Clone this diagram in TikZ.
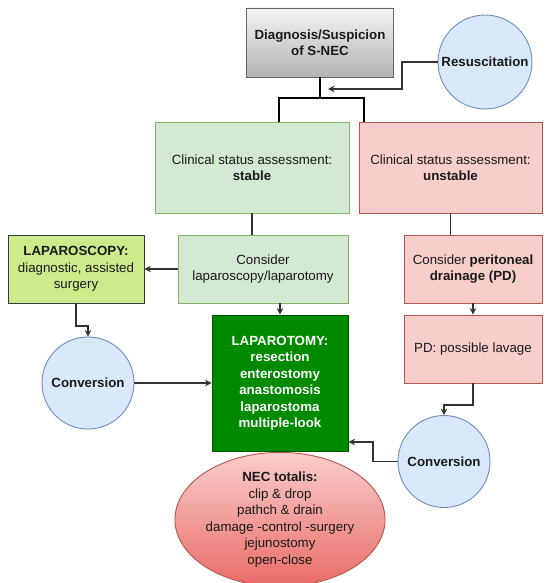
\documentclass[tikz,border=0pt]{standalone}
\usepackage{fontspec}
\setmainfont{Liberation Sans}
\usetikzlibrary{shapes.geometric,arrows.meta}
\definecolor{okfill}{HTML}{D5E8D4}
\definecolor{okline}{HTML}{82B366}
\definecolor{badfill}{HTML}{F8CECC}
\definecolor{badline}{HTML}{B85450}
\definecolor{badbot}{HTML}{EA6B66}
\definecolor{scopefill}{HTML}{CDEB8B}
\definecolor{scopeline}{HTML}{36393D}
\definecolor{tomyfill}{HTML}{008A00}
\definecolor{tomyline}{HTML}{005700}
\definecolor{convfill}{HTML}{DAE8FC}
\definecolor{convline}{HTML}{6C8EBF}
\definecolor{txt}{HTML}{1A1A1A}
\begin{document}
\begin{tikzpicture}[x=1pt, y=-1pt,
  every node/.style={font=\fontsize{13.3}{16.5}\selectfont, text=txt},
  blk/.style={draw, line width=0.9pt, align=center, inner sep=2pt},
  ok/.style={blk, fill=okfill, draw=okline},
  bad/.style={blk, fill=badfill, draw=badline},
  conv/.style={circle, draw=convline, fill=convfill, line width=0.9pt, minimum size=92pt, inner sep=0pt, font=\fontsize{13.3}{16.5}\selectfont\bfseries},
  arr/.style={-{Stealth[length=6.5pt,width=6.5pt]}, line width=1.2pt, draw=black!80},
  lnk/.style={line width=1.2pt, draw=black!80},
  trunk/.style={line width=2.4pt, draw=black}]
\useasboundingbox (0,0) rectangle (550,583);
\node[blk, top color=black!4, bottom color=black!30, draw=black!60, minimum width=147pt, minimum height=69pt, font=\fontsize{13.3}{16.5}\selectfont\bfseries] (diag) at (320,42.5) {Diagnosis/Suspicion\\of S-NEC};
\node[conv, minimum size=94pt] (resus) at (485,62) {Resuscitation};
\node[ok, minimum width=194pt, minimum height=91pt] (stable) at (252,167.5) {Clinical status assessment:\\\textbf{stable}};
\node[bad, minimum width=183pt, minimum height=91pt] (unstable) at (450.5,167.5) {Clinical status assessment:\\\textbf{unstable}};
\node[ok, minimum width=170pt, minimum height=68pt] (conslap) at (263,269) {Consider\\laparoscopy/laparotomy};
\node[blk, fill=scopefill, draw=scopeline, minimum width=136pt, minimum height=68pt] (lapscopy) at (76,269) {\textbf{LAPAROSCOPY:}\\diagnostic, assisted\\surgery};
\node[bad, minimum width=138pt, minimum height=68pt] (conspd) at (473,269) {Consider \textbf{peritoneal}\\\textbf{drainage (PD)}};
\node[bad, minimum width=138pt, minimum height=68pt] (lavage) at (473,349) {PD: possible lavage};
\node[blk, fill=tomyfill, draw=tomyline, text=white, minimum width=136pt, minimum height=136pt, font=\fontsize{13.3}{16.5}\selectfont\bfseries] (lapotomy) at (280,383) {LAPAROTOMY:\\resection\\enterostomy\\anastomosis\\laparostoma\\multiple-look};
\node[conv] (convl) at (88,383) {Conversion};
\node[conv] (convr) at (444,461.5) {Conversion};
\node[ellipse, draw=badline, top color=badfill, bottom color=badbot, line width=0.9pt, minimum width=206pt, minimum height=113pt, inner sep=0pt, align=center] (nec) at (280,519.5) {\textbf{NEC totalis:}\\clip \& drop\\pathch \& drain\\damage -control -surgery\\jejunostomy\\open-close};

\coordinate (split) at (320,98);
\coordinate (jl) at (279,98);
\coordinate (jr) at (364,98);
\coordinate (rbend) at (402,89);
\coordinate (rin) at (328,89);
\coordinate (cbend) at (88,326);
\coordinate (lbend) at (444,405);
\coordinate (tbend) at (373,442);

\draw[trunk] (diag.south) -- (split);
\draw[trunk, line cap=rect] (jl) -- (jr);
\draw[trunk] (jl) -- (jl |- stable.north);
\draw[trunk] (jr) -- (jr |- unstable.north);
\draw[arr] (resus.west) -| (rbend) -- (rin);
\draw[lnk] (stable.south) -- (stable.south |- conslap.north);
\draw[lnk] (unstable.south) -- (unstable.south |- conspd.north);
\draw[arr] (conslap.west) -- (lapscopy.east);
\draw[arr] (lapotomy.north |- conslap.south) -- (lapotomy.north);
\draw[arr] (conspd.south) -- (lavage.north);
\draw[arr] (lapscopy.south) |- (cbend) -- (convl.north);
\draw[arr] (convl.east) -- (convl.east -| lapotomy.west);
\draw[arr] (lavage.south) |- (lbend) -- (convr.north);
\draw[arr] (convr.west) -| (tbend) -- (tbend -| lapotomy.east);
\end{tikzpicture}
\end{document}
